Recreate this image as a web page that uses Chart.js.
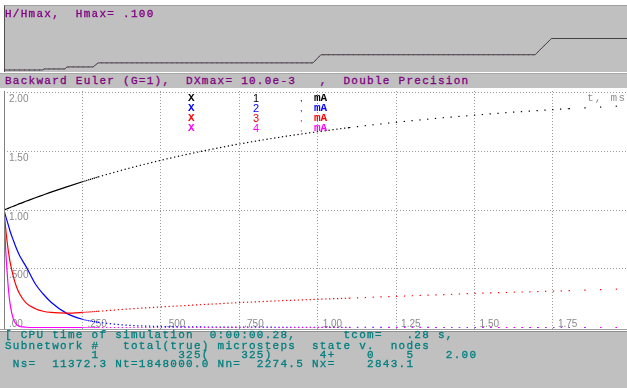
<!DOCTYPE html>
<html>
<head>
<meta charset="utf-8">
<script src="https://cdn.jsdelivr.net/npm/chart.js@4.4.1/dist/chart.umd.min.js"></script>
<style>
  html, body { margin: 0; padding: 0; background: #ffffff; }
  body { width: 627px; height: 388px; position: relative; overflow: hidden;
         font-family: "Liberation Mono", "DejaVu Sans Mono", monospace; }
  .abs { position: absolute; }
  .mono { font-family: "Liberation Mono", monospace; font-size: 11px; line-height: 10px;
          letter-spacing: 1.27px; white-space: pre; }
  .heavy { -webkit-text-stroke: 0.3px currentColor; }
  #hPanel { left: 4px; top: 5px; width: 623px; height: 67px; background: #c0c0c0;
            border-top: 1px solid #a0a0a0; border-left: 1px solid #505050; box-sizing: border-box; }
  #infoBar { left: 0; top: 73px; width: 627px; height: 15px; background: #c0c0c0;
             border-top: 1px solid #a8a8a8; box-sizing: border-box; }
  #plotLeft { left: 4px; top: 91px; width: 1px; height: 239px; background: #808080; }
  #plotBottom { left: 0; top: 329px; width: 627px; height: 1px; background: #a0a0a0; }
  #statPanel { left: 0; top: 331px; width: 627px; height: 57px; background: #c0c0c0;
               border-top: 1px solid #909090; box-sizing: border-box; }
  .purple { color: #800080; }
  .teal { color: #007f7f; }
  #hCanvas, #mainCanvas { position: absolute; left: 0; }
  .legend { position: absolute; font-size: 11px; line-height: 10px; white-space: pre; }
</style>
</head>
<body>
<div id="hPanel" class="abs"></div>
<canvas id="hCanvas" width="627" height="66" style="top:6px;"></canvas>
<div class="abs mono heavy purple" style="left:5px;top:9px;">H/Hmax,  Hmax= .100</div>

<div id="infoBar" class="abs"></div>
<div class="abs mono heavy purple" style="left:5px;top:76px;">Backward Euler (G=1),  DXmax= 10.0e-3   ,  Double Precision</div>

<canvas id="mainCanvas" width="627" height="239" style="top:91px;"></canvas>
<div id="plotLeft" class="abs"></div>
<div id="plotBottom" class="abs"></div>
<div id="legendBox"></div>
<div class="abs mono" style="left:587px;top:93px;color:#909090;">t, ms</div>

<div id="statPanel" class="abs"></div>
<div class="abs mono heavy teal" style="left:5px;top:330px;">[ CPU time of simulation  0:00:00.28,      tcom=   .28 s,</div>
<div class="abs mono heavy teal" style="left:5px;top:341px;">Subnetwork #   total(true) microsteps  state v.  nodes</div>
<div class="abs mono heavy teal" style="left:5px;top:350px;">           1          325(    325)      4+    0    5    2.00</div>
<div class="abs mono heavy teal" style="left:5px;top:359px;"> Ns=  11372.3 Nt=1848000.0 Nn=  2274.5 Nx=    2843.1</div>

<script>
// ---- step-size history (upper strip), H/Hmax versus time, ms ----
const H_MAX = 0.100;
const hTime  = [0, 0.124, 0.127, 0.194, 0.201, 0.284, 0.300, 0.985, 1.010, 1.693, 1.745, 1.986];
const hRatio = [0.0156, 0.0156, 0.0313, 0.0313, 0.0625, 0.0625, 0.125, 0.125, 0.25, 0.25, 0.5, 0.5];

// ---- simulated currents X1..X4, mA, sampled on a common time grid, ms ----
const timeMs = [0, 0.005, 0.01, 0.015, 0.02, 0.03, 0.04, 0.05, 0.07, 0.1, 0.125, 0.15, 0.2, 0.25,
                0.3, 0.4, 0.5, 0.6, 0.7, 0.8, 0.9, 1.0, 1.1, 1.2, 1.3, 1.4, 1.5, 1.6, 1.7, 1.8, 1.9, 1.986];
const x1 = [1.000, 1.005, 1.011, 1.016, 1.022, 1.032, 1.043, 1.054, 1.074, 1.104, 1.128, 1.152, 1.197, 1.240,
            1.281, 1.356, 1.423, 1.483, 1.537, 1.585, 1.628, 1.666, 1.701, 1.732, 1.760, 1.785, 1.807, 1.828, 1.846, 1.862, 1.876, 1.888];
const x2 = [1.000, 0.950, 0.905, 0.860, 0.815, 0.740, 0.670, 0.610, 0.520, 0.370, 0.285, 0.215, 0.120, 0.070,
            0.045, 0.018, 0.009, 0.005, 0.004, 0.003, 0.002, 0.002, 0.001, 0.001, 0.001, 0.000, 0.000, 0.000, 0.000, 0.000, 0.000, 0.000];
const x3 = [1.000, 0.850, 0.730, 0.630, 0.550, 0.430, 0.345, 0.285, 0.210, 0.160, 0.138, 0.128, 0.122, 0.128,
            0.138, 0.158, 0.175, 0.190, 0.205, 0.218, 0.230, 0.240, 0.250, 0.260, 0.270, 0.280, 0.290, 0.298, 0.306, 0.314, 0.322, 0.328];
const x4 = [1.000, 0.680, 0.470, 0.300, 0.190, 0.070, 0.025, 0.010, 0.002, 0.000, 0.000, 0.000, 0.000, 0.000,
            0.000, 0.000, 0.000, 0.000, 0.000, 0.000, 0.000, 0.000, 0.000, 0.000, 0.000, 0.000, 0.000, 0.000, 0.000, 0.000, 0.000, 0.000];

const seriesValues = [x1, x2, x3, x4];
const seriesNames  = ['1', '2', '3', '4'];
const seriesColors = ['#000000', '#0000ff', '#ff0000', '#ff00ff'];
const variableName = 'X';
const unitName = 'mA';

// ---- axes ----
const T_MIN = 0, T_MAX = 1.986;
const Y_MIN = -0.0213, Y_MAX = 2.0128;
const xTickValues = [0, 0.25, 0.5, 0.75, 1.0, 1.25, 1.5, 1.75];
const xTickLabels = ['', '.250', '.500', '.750', '1.00', '1.25', '1.50', '1.75'];
const yTickValues = [0, 0.5, 1.0, 1.5, 2.0];
const yTickLabels = ['.00', '.500', '1.00', '1.50', '2.00'];

const GRID = '#9a9a9a';
const LABEL_FONT = '10px "Liberation Sans", Arial, sans-serif';

// H/Hmax in force at time t
function ratioAt(t) {
  let r = hRatio[0];
  for (let i = 0; i < hTime.length; i++) if (hTime[i] <= t + 1e-9) r = hRatio[i];
  return r;
}

// Integration points become visible dots once the step is wide enough on screen
function stepDash(ctx) {
  const chart = ctx.chart;
  const sx = chart.scales.x;
  const pxPerMs = sx.getPixelForValue(1) - sx.getPixelForValue(0);
  const t = ctx.p0.parsed ? ctx.p0.parsed.x : sx.getValueForPixel(ctx.p0.x);
  const gap = H_MAX * ratioAt(t) * pxPerMs;
  return gap < 1.6 ? undefined : [1.3, gap - 1.3];
}

const tickLabelPlugin = {
  id: 'insideTicks',
  beforeDatasetsDraw(chart) {
    const { ctx, chartArea: a, scales: { x, y } } = chart;
    ctx.save();
    ctx.font = LABEL_FONT;
    ctx.fillStyle = '#8a8a8a';
    ctx.textAlign = 'left';
    ctx.textBaseline = 'top';
    yTickValues.forEach((v, i) => {
      const py = Math.min(y.getPixelForValue(v) + 2, a.bottom - 11);
      ctx.fillText(yTickLabels[i], a.left + 5, py);
    });
    ctx.textBaseline = 'middle';
    xTickValues.forEach((v, i) => {
      if (!xTickLabels[i]) return;
      ctx.fillText(xTickLabels[i], x.getPixelForValue(v) + 5, a.bottom - 5.5);
    });
    ctx.restore();
  }
};

const hiddenGrid = () => (c) => (c.tick && c.tick.value === 0 ? 'rgba(0,0,0,0)' : GRID);

// ---- main plot ----
new Chart(document.getElementById('mainCanvas'), {
  type: 'line',
  data: {
    datasets: seriesValues.map((vals, k) => ({
      label: variableName + ' ' + seriesNames[k] + ', ' + unitName,
      data: timeMs.map((t, i) => ({ x: t, y: vals[i] })),
      borderColor: seriesColors[k],
      backgroundColor: seriesColors[k],
      borderWidth: 1.2,
      pointRadius: 0,
      cubicInterpolationMode: 'monotone',
      fill: false,
      order: seriesValues.length - k,
      segment: { borderDash: stepDash }
    }))
  },
  options: {
    responsive: false,
    animation: false,
    devicePixelRatio: 1,
    layout: { padding: { left: 4, right: 0, top: 0, bottom: 0 } },
    plugins: { legend: { display: false }, tooltip: { enabled: false } },
    scales: {
      x: {
        type: 'linear', min: T_MIN, max: T_MAX,
        afterBuildTicks: (s) => { s.ticks = xTickValues.map(v => ({ value: v })); },
        ticks: { display: false },
        grid: { color: hiddenGrid(), drawTicks: false, lineWidth: 1 },
        border: { display: false, dash: [1, 2] }
      },
      y: {
        type: 'linear', min: Y_MIN, max: Y_MAX,
        afterBuildTicks: (s) => { s.ticks = yTickValues.map(v => ({ value: v })); },
        ticks: { display: false },
        grid: { color: hiddenGrid(), drawTicks: false, lineWidth: 1 },
        border: { display: false, dash: [1, 2] }
      }
    }
  },
  plugins: [tickLabelPlugin]
});

// ---- step-size strip ----
new Chart(document.getElementById('hCanvas'), {
  type: 'line',
  data: {
    datasets: [
      {
        data: hTime.map((t, i) => ({ x: t, y: hRatio[i] })),
        borderColor: '#404040', borderWidth: 1, pointRadius: 0, tension: 0
      },
      {
        data: hTime.map((t, i) => ({ x: t, y: hRatio[i] })),
        borderColor: '#9a209a', borderWidth: 1, pointRadius: 0, tension: 0,
        borderDash: [1, 4]
      }
    ]
  },
  options: {
    responsive: false,
    animation: false,
    devicePixelRatio: 1,
    layout: { padding: { left: 4, right: 0, top: 0, bottom: 1 } },
    plugins: { legend: { display: false }, tooltip: { enabled: false } },
    scales: {
      x: { type: 'linear', min: T_MIN, max: T_MAX, display: false },
      y: { type: 'linear', min: 0, max: 1, display: false }
    }
  }
});

// ---- legend rows ----
const legendBox = document.getElementById('legendBox');
seriesNames.forEach((name, k) => {
  const top = 93 + k * 10;
  const c = seriesColors[k];
  const parts = [
    { text: variableName, left: 188, font: 'bold 11px "Liberation Mono", monospace' },
    { text: name, left: 253, font: '11px "Liberation Sans", Arial, sans-serif' },
    { text: ',', left: 300, font: '9px "Liberation Sans", Arial, sans-serif' },
    { text: unitName, left: 314, font: 'bold 11px "Liberation Mono", monospace' }
  ];
  parts.forEach(p => {
    const d = document.createElement('div');
    d.className = 'legend';
    d.textContent = p.text;
    d.style.left = p.left + 'px';
    d.style.top = top + 'px';
    d.style.color = c;
    d.style.font = p.font;
    d.style.lineHeight = '10px';
    legendBox.appendChild(d);
  });
});
</script>
</body>
</html>
